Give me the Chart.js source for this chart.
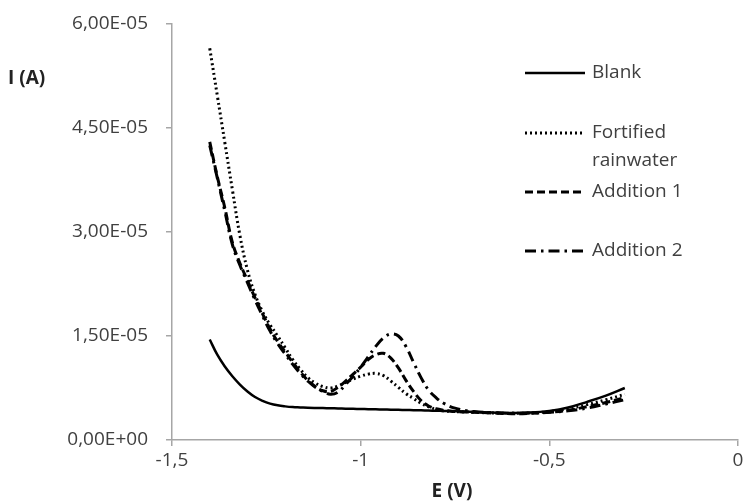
<!DOCTYPE html>
<html>
<head>
<meta charset="utf-8">
<script src="https://cdn.jsdelivr.net/npm/chart.js@4.4.1/dist/chart.umd.min.js"></script>
<style>
  html, body { margin: 0; padding: 0; background: #fff; }
  #wrap { width: 744px; height: 503px; }
</style>
</head>
<body>
<div id="wrap"><canvas id="chart" width="744" height="503"></canvas></div>
<script>
// potencial (V)
const potentials = [
  -1.40, -1.38, -1.36, -1.34, -1.32, -1.30, -1.28, -1.26, -1.24, -1.22,
  -1.20, -1.18, -1.16, -1.14, -1.12, -1.10, -1.08, -1.06, -1.04, -1.02,
  -1.00, -0.98, -0.96, -0.94, -0.92, -0.90, -0.88, -0.86, -0.84, -0.82,
  -0.80, -0.78, -0.75, -0.70, -0.65, -0.60, -0.55, -0.50, -0.45, -0.40,
  -0.35, -0.30
]

// corrente em unidades de 1E-05 A
const blank = [
  1.45, 1.23, 1.06, 0.92, 0.80, 0.70, 0.62, 0.565, 0.525, 0.50,
  0.485, 0.475, 0.47, 0.465, 0.462, 0.46, 0.458, 0.455, 0.452, 0.45,
  0.447, 0.445, 0.442, 0.44, 0.437, 0.435, 0.432, 0.43, 0.428, 0.425,
  0.422, 0.42, 0.415, 0.405, 0.395, 0.39, 0.395, 0.42, 0.47, 0.55,
  0.64, 0.75
]
const fortified = [
  5.65, 4.97, 4.29, 3.61, 2.95, 2.45, 2.10, 1.85, 1.66, 1.50,
  1.33, 1.16, 1.02, 0.90, 0.82, 0.77, 0.75, 0.78, 0.83, 0.88,
  0.92, 0.95, 0.96, 0.93, 0.85, 0.76, 0.67, 0.60, 0.53, 0.48,
  0.44, 0.42, 0.41, 0.40, 0.39, 0.385, 0.39, 0.41, 0.45, 0.51,
  0.58, 0.66
]
const addition1 = [
  4.30, 3.80, 3.35, 2.85, 2.55, 2.30, 2.05, 1.82, 1.60, 1.42,
  1.27, 1.12, 0.98, 0.86, 0.77, 0.71, 0.70, 0.76, 0.85, 0.95,
  1.05, 1.16, 1.23, 1.25, 1.18, 1.04, 0.86, 0.70, 0.57, 0.49,
  0.45, 0.43, 0.41, 0.40, 0.39, 0.38, 0.385, 0.40, 0.43, 0.48,
  0.54, 0.61
]
const addition2 = [
  4.25, 3.78, 3.30, 2.82, 2.52, 2.27, 2.02, 1.79, 1.57, 1.39,
  1.24, 1.09, 0.96, 0.85, 0.76, 0.70, 0.66, 0.69, 0.80, 0.92,
  1.05, 1.20, 1.35, 1.47, 1.53, 1.50, 1.35, 1.12, 0.90, 0.72,
  0.61, 0.53, 0.46, 0.41, 0.395, 0.385, 0.39, 0.40, 0.42, 0.46,
  0.52, 0.58
]

const xTicks = [-1.5, -1, -0.5, 0]
const yTicks = [0, 1.5, 3, 4.5, 6]

const seriesNames = ["Blank", "Fortified\nrainwater", "Addition 1", "Addition 2"]
const seriesDash = [[], [2, 3], [8, 4], [11, 5, 2.5, 5]]
const seriesData = [blank, fortified, addition1, addition2]

const textColor = "#404040"
const axisColor = "#a6a6a6"
const fontFamily = "'Open Sans', sans-serif"

Chart.defaults.font.family = fontFamily
Chart.defaults.font.size = 19
Chart.defaults.color = textColor

function toPoints(values) {
  return potentials.map((e, i) => ({ x: e, y: values[i] }))
}

// formata os ticks do eixo y como no Excel
function formatCurrent(v) {
  if (Math.abs(v) < 1e-9) return "0,00E+00"
  return v.toFixed(2).replace(".", ",") + "E-05"
}

// legenda e títulos dos eixos desenhados à mão
const extrasPlugin = {
  id: "extras",
  afterDraw(chart) {
    const ctx = chart.ctx
    ctx.save()
    ctx.fillStyle = "#222"
    ctx.font = "bold 19px " + fontFamily
    ctx.textBaseline = "middle"
    ctx.textAlign = "left"
    ctx.fillText("I (A)", 8, 79)
    ctx.textAlign = "center"
    ctx.fillText("E (V)", 452, 492)

    const rows = [73, 133, 192, 251]
    ctx.font = "19px " + fontFamily
    ctx.textAlign = "left"
    rows.forEach((y, i) => {
      ctx.beginPath()
      ctx.setLineDash(seriesDash[i])
      ctx.lineWidth = i === 0 ? 2.5 : 3
      ctx.strokeStyle = "#000"
      ctx.moveTo(525, y)
      ctx.lineTo(585, y)
      ctx.stroke()
      ctx.fillStyle = textColor
      seriesNames[i].split("\n").forEach((line, j) => {
        ctx.fillText(line, 592, y + j * 28)
      })
    })
    ctx.restore()
  },
}

const ctx = document.getElementById("chart").getContext("2d")

new Chart(ctx, {
  type: "line",
  data: {
    datasets: seriesData.map((values, i) => ({
      label: seriesNames[i],
      data: toPoints(values),
      borderColor: "#000",
      borderWidth: i === 0 ? 2.5 : 3,
      borderDash: seriesDash[i],
      pointRadius: 0,
      fill: false,
      tension: 0.4,
    })),
  },
  options: {
    responsive: false,
    animation: false,
    devicePixelRatio: 1,
    layout: { padding: { top: 24, right: 6, left: 0, bottom: 0 } },
    plugins: { legend: { display: false }, tooltip: { enabled: false } },
    scales: {
      x: {
        type: "linear",
        min: -1.5,
        max: 0,
        afterBuildTicks: (scale) => {
          scale.ticks = xTicks.map((v) => ({ value: v }))
        },
        afterFit: (scale) => {
          scale.height = 63
          scale.paddingLeft = 0
          scale.paddingRight = 0
        },
        grid: { drawOnChartArea: false, drawTicks: true, tickLength: 6, color: axisColor, lineWidth: 1.5 },
        border: { display: true, color: axisColor, width: 1.5 },
        ticks: {
          padding: 3,
          color: textColor,
          maxRotation: 0,
          callback: (v) => String(v).replace(".", ","),
        },
      },
      y: {
        type: "linear",
        min: 0,
        max: 6,
        afterBuildTicks: (scale) => {
          scale.ticks = yTicks.map((v) => ({ value: v }))
        },
        afterFit: (scale) => {
          scale.width = 172
          scale.paddingTop = 0
          scale.paddingBottom = 0
        },
        grid: { drawOnChartArea: false, drawTicks: true, tickLength: 6, color: axisColor, lineWidth: 1.5 },
        border: { display: true, color: axisColor, width: 1.5 },
        ticks: {
          padding: 18,
          color: textColor,
          callback: (v) => formatCurrent(v),
        },
      },
    },
  },
  plugins: [extrasPlugin],
})
</script>
</body>
</html>
